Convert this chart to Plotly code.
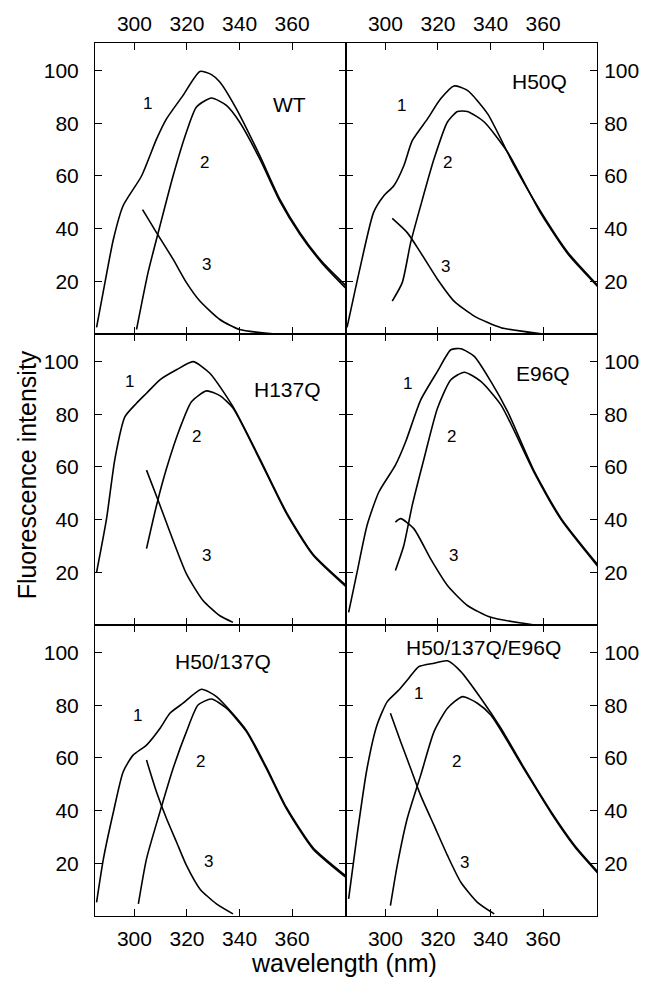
import plotly.graph_objects as go
from plotly.subplots import make_subplots

# ---------------- data ----------------
panel_names = ["WT", "H50Q", "H137Q", "E96Q", "H50/137Q", "H50/137Q/E96Q"]
x_ticks = [300, 320, 340, 360]
y_ticks = [20, 40, 60, 80, 100]

# WT
wt_c1_x = [285.6, 288.8, 292, 295.7, 302.7, 308.4, 312.2, 318.5, 324.9, 329.3, 332.5, 338.8, 347.7, 355.3, 362.9, 371.6, 380.6]
wt_c1_y = [2.5, 19.6, 36, 48.7, 60, 74, 81.7, 90.6, 99.7, 98.5, 95.7, 85.5, 67.7, 51.2, 38.6, 27.2, 18.2]
wt_c2_x = [300.8, 305.2, 309.7, 314.7, 319.8, 323.6, 329.3, 335, 340, 347.7, 355.3, 362.9, 371.6, 380.6]
wt_c2_y = [1.7, 23.4, 41, 60, 76.7, 86.2, 89.6, 86.8, 80.5, 66.5, 50.5, 38, 26.6, 17.2]
wt_c3_x = [303.1, 308.4, 314.7, 319.8, 324.9, 332.5, 340, 352.6]
wt_c3_y = [47.2, 38.5, 28.4, 19.5, 12.5, 5.5, 1.7, 0.1]

# H50Q
h50_c1_x = [285.4, 290.5, 295.5, 299.4, 303.2, 307, 310.2, 316, 321, 326.1, 331.2, 338.9, 349, 359.3, 369.5, 381]
h50_c1_y = [2.5, 25.8, 46.2, 52.5, 56.3, 63.9, 73.4, 81.7, 89.3, 94.2, 92.5, 83.6, 63.9, 46.2, 30.9, 18.2]
h50_c2_x = [302.6, 306.4, 309.6, 313.4, 318.5, 323.6, 327.4, 331.2, 337.6, 346.5, 359.3, 369.5, 381]
h50_c2_y = [12.5, 19.5, 34.7, 48.7, 66.5, 80.5, 84.5, 84.5, 80.5, 69, 45.5, 30.3, 17.8]
h50_c3_x = [302.6, 308.3, 313.4, 319.8, 326.1, 333.8, 344, 359.3]
h50_c3_y = [43.9, 38.5, 30.9, 20.8, 12.5, 6.8, 2.4, 0.1]

# H137Q
h137_c1_x = [285.6, 289.4, 292.6, 296.4, 300.8, 304.6, 309.7, 316, 322.3, 328.7, 337.5, 347.7, 357.8, 367.9, 380.6]
h137_c1_y = [20, 40.4, 63.2, 79.1, 84.2, 88, 93.1, 96.9, 100, 95.6, 82.9, 63.2, 42.9, 27, 15]
h137_c2_x = [304.6, 308.4, 312.2, 317.3, 321.7, 327.4, 332.5, 337.5, 347.7, 357.8, 367.9, 380.6]
h137_c2_y = [29, 45.4, 59.4, 74.7, 84.8, 88.9, 87.1, 82.4, 62.7, 42.4, 26.6, 14.5]
h137_c3_x = [304.6, 309, 313.5, 319.8, 326.1, 332.5, 337.5]
h137_c3_y = [58.8, 47.4, 35.3, 19.4, 9.3, 3.5, 1]

# E96Q
e96_c1_x = [286, 289.2, 293, 297.5, 303.8, 307.7, 313.4, 319.8, 324.9, 328.7, 333.8, 340.1, 346.5, 356.7, 366.9, 381]
e96_c1_y = [4.8, 20, 37.8, 50.5, 60.7, 69.6, 85.4, 96.3, 104.5, 104.9, 102, 92.5, 81, 58.2, 40.4, 22.6]
e96_c2_x = [303.8, 307, 310.2, 314.7, 319.8, 324.9, 330, 336.3, 344, 356.7, 366.9, 381]
e96_c2_y = [20.7, 30.2, 45.4, 63.2, 82.3, 93.1, 96, 92.5, 83.5, 57.7, 39.9, 22]
e96_c3_x = [303.8, 305.8, 310.8, 317.2, 323.6, 331.2, 340.1, 356.7]
e96_c3_y = [39.1, 40.4, 36.6, 25.1, 15, 7.4, 2.9, 0]

# H50/137Q
dbl_c1_x = [285.6, 288.2, 292, 295.7, 299.5, 304.6, 309.7, 313.5, 318.5, 325.5, 331.2, 342.6, 350.2, 357.8, 367.9, 381.2]
dbl_c1_y = [5.2, 21.7, 39.5, 54.7, 61.1, 64.9, 71.2, 77, 80.8, 86.1, 83.3, 70.5, 56.5, 41.3, 26, 14.6]
dbl_c2_x = [301.5, 304.6, 309.7, 314.7, 319.8, 324.2, 329.3, 335, 342.6, 350.2, 357.8, 367.9, 381.2]
dbl_c2_y = [4.6, 21.7, 39.5, 56, 70, 80.1, 82.4, 78.9, 70, 56, 40.8, 25.5, 14.1]
dbl_c3_x = [304.6, 308.4, 312.2, 316, 319.8, 324.9, 331.2, 337.5]
dbl_c3_y = [59.2, 47.1, 37, 28.1, 19.2, 10.3, 4.6, 0.8]

# H50/137Q/E96Q
tri_c1_x = [286, 289.2, 293, 296.8, 300.7, 305.1, 308.9, 312.7, 318.5, 323.6, 328.7, 336.3, 344, 352.9, 363.1, 372, 381.5]
tri_c1_y = [6.5, 30.6, 56, 72.5, 81.4, 85.8, 90.3, 94.7, 96, 96.9, 92.8, 82.7, 71.2, 56, 39.5, 26.8, 16]
tri_c2_x = [301.9, 304.5, 308.3, 313.4, 318.5, 323.6, 329.3, 335, 340.1, 352.9, 363.1, 372, 381.5]
tri_c2_y = [3.9, 19.2, 37, 53.4, 70, 78.9, 83.3, 80.8, 76.3, 55.5, 39, 26.3, 15.5]
tri_c3_x = [301.9, 305.8, 309.6, 313.4, 318.5, 323.6, 328.7, 335, 341.4]
tri_c3_y = [77, 66.2, 56, 45.8, 34.4, 23, 12.8, 5.2, 0.8]

# label positions (data coords) for panel names and curve numbers
name_pos_x = [359, 358.7, 358.4, 359.8, 333.7, 337.3]
name_pos_y = [87, 96, 89.5, 95.6, 96.8, 102]
num1_x = [304.8, 306, 298, 308.3, 301, 312.5]
num1_y = [87.4, 86.7, 92.6, 91.8, 76.2, 84.6]
num2_x = [326.8, 323.5, 323.8, 325, 325.3, 327]
num2_y = [65.3, 65.3, 71.6, 71.6, 58.7, 58.7]
num3_x = [327.6, 322.8, 327.6, 325.8, 328, 330]
num3_y = [26.5, 25.7, 26.3, 26.3, 20.6, 20.2]

panels = [
    [(wt_c1_x, wt_c1_y), (wt_c2_x, wt_c2_y), (wt_c3_x, wt_c3_y)],
    [(h50_c1_x, h50_c1_y), (h50_c2_x, h50_c2_y), (h50_c3_x, h50_c3_y)],
    [(h137_c1_x, h137_c1_y), (h137_c2_x, h137_c2_y), (h137_c3_x, h137_c3_y)],
    [(e96_c1_x, e96_c1_y), (e96_c2_x, e96_c2_y), (e96_c3_x, e96_c3_y)],
    [(dbl_c1_x, dbl_c1_y), (dbl_c2_x, dbl_c2_y), (dbl_c3_x, dbl_c3_y)],
    [(tri_c1_x, tri_c1_y), (tri_c2_x, tri_c2_y), (tri_c3_x, tri_c3_y)],
]

FONT = "Liberation Sans, Arial, sans-serif"

fig = make_subplots(rows=3, cols=2, horizontal_spacing=0, vertical_spacing=0)

for i, curves in enumerate(panels):
    r, c = i // 2 + 1, i % 2 + 1
    for cx, cy in curves:
        fig.add_trace(go.Scatter(x=cx, y=cy, mode="lines",
                                 line=dict(color="black", width=1.6, shape="spline", smoothing=0.6),
                                 showlegend=False, hoverinfo="skip"), row=r, col=c)
    axn = "" if i == 0 else str(i + 1)
    xr, yr = "x" + axn, "y" + axn
    fig.add_annotation(x=name_pos_x[i], y=name_pos_y[i], xref=xr, yref=yr, text=panel_names[i],
                       showarrow=False, font=dict(family=FONT, size=21, color="black"))
    for t, nx, ny in (("1", num1_x, num1_y), ("2", num2_x, num2_y), ("3", num3_x, num3_y)):
        fig.add_annotation(x=nx[i], y=ny[i], xref=xr, yref=yr, text=t, showarrow=False,
                           font=dict(family=FONT, size=17, color="black"))

axis_common = dict(showline=True, linecolor="black", linewidth=1, mirror="ticks",
                   ticks="inside", ticklen=7, tickcolor="black", tickwidth=1,
                   showgrid=False, zeroline=False, automargin=False,
                   tickfont=dict(family=FONT, size=21, color="black"))

for r in range(1, 4):
    for c in range(1, 3):
        xa = dict(axis_common, range=[285, 380.5], tickvals=x_ticks, ticktext=[str(v) for v in x_ticks])
        if r == 1:
            xa.update(side="top", showticklabels=True, ticklabelstandoff=3)
        elif r == 3:
            xa.update(side="bottom", showticklabels=True, ticklabelstandoff=4)
        else:
            xa.update(showticklabels=False)
        fig.update_xaxes(xa, row=r, col=c)
        ya = dict(axis_common, range=[0, 110.5], tickvals=y_ticks, ticktext=[str(v) for v in y_ticks],
                  showticklabels=True, side="left" if c == 1 else "right",
                  ticklabelstandoff=11 if c == 1 else 2)
        fig.update_yaxes(ya, row=r, col=c)

fig.add_annotation(x=0.496, y=-0.054, xref="paper", yref="paper", text="wavelength (nm)",
                   showarrow=False, yanchor="middle",
                   font=dict(family=FONT, size=25, color="black"))
fig.add_annotation(x=-0.135, y=0.505, xref="paper", yref="paper", text="Fluorescence intensity",
                   showarrow=False, textangle=-90, xanchor="center", yanchor="middle",
                   font=dict(family=FONT, size=25, color="black"))

# page body adds an 8px offset; size the figure so it fits the window exactly
fig.update_layout(width=644, height=975, margin=dict(l=87, r=55, t=35, b=67),
                  plot_bgcolor="white", paper_bgcolor="white", showlegend=False)

fig.write_html("out.html")
